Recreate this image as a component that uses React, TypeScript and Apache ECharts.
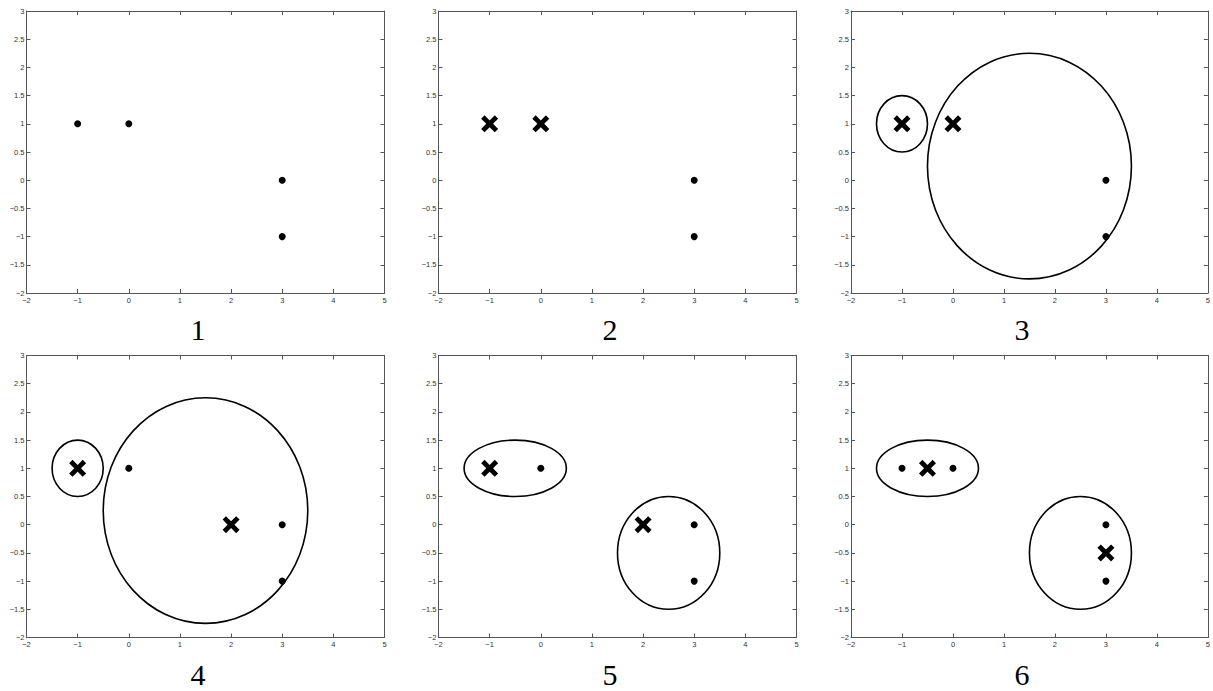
import React, { useEffect, useRef } from "react";
import * as echarts from "echarts";

// ---- data ----
const panelLabels = ["1", "2", "3", "4", "5", "6"];

// data points (filled dots) per panel
const dots1 = [[-1, 1], [0, 1], [3, 0], [3, -1]];
const dots2 = [[3, 0], [3, -1]];
const dots3 = [[3, 0], [3, -1]];
const dots4 = [[0, 1], [3, 0], [3, -1]];
const dots5 = [[0, 1], [3, 0], [3, -1]];
const dots6 = [[-1, 1], [0, 1], [3, 0], [3, -1]];

// centroids (crosses) per panel
const crosses1: number[][] = [];
const crosses2 = [[-1, 1], [0, 1]];
const crosses3 = [[-1, 1], [0, 1]];
const crosses4 = [[-1, 1], [2, 0]];
const crosses5 = [[-1, 1], [2, 0]];
const crosses6 = [[-0.5, 1], [3, -0.5]];

// ellipses: [centerX, centerY, radiusX, radiusY] in data units
const ellipses1: number[][] = [];
const ellipses2: number[][] = [];
const ellipses3 = [[-1, 1, 0.5, 0.5], [1.5, 0.25, 2, 2]];
const ellipses4 = [[-1, 1, 0.5, 0.5], [1.5, 0.25, 2, 2]];
const ellipses5 = [[-0.5, 1, 1, 0.5], [2.5, -0.5, 1, 1]];
const ellipses6 = [[-0.5, 1, 1, 0.5], [2.5, -0.5, 1, 1]];

const xMin = -2, xMax = 5, xStep = 1;
const yMin = -2, yMax = 3, yStep = 0.5;

const allDots = [dots1, dots2, dots3, dots4, dots5, dots6];
const allCrosses = [crosses1, crosses2, crosses3, crosses4, crosses5, crosses6];
const allEllipses = [ellipses1, ellipses2, ellipses3, ellipses4, ellipses5, ellipses6];

// ---- layout ----
const colLefts = [26.5, 438.5, 851];
const rowTops = [11, 355.5];
const plotW = 358;
const plotH = 282;
const labelCx = [198, 610, 1022];
const labelCy = [329, 674];

const CROSS =
  "path://M2,0 L5,3 L8,0 L10,2 L7,5 L10,8 L8,10 L5,7 L2,10 L0,8 L3,5 L0,2 Z";

const fmt = (v: number) => String(v).replace("-", "\u2212");

export default function App() {
  const ref = useRef<HTMLDivElement>(null);
  useEffect(() => {
    document.body.style.margin = "0";
    if (!ref.current) return;
    const chart = echarts.init(ref.current, null, { renderer: "svg" });

    const grids: any[] = [];
    const xAxes: any[] = [];
    const yAxes: any[] = [];
    const series: any[] = [];
    const graphics: any[] = [];
    const lineColor = "#555";
    const labelStyle = {
      fontSize: 7.5,
      color: "#333",
      fontFamily: "Liberation Sans, Arial, sans-serif",
    };

    for (let i = 0; i < 6; i++) {
      const r = Math.floor(i / 3);
      const c = i % 3;
      grids.push({
        left: colLefts[c],
        top: rowTops[r],
        width: plotW,
        height: plotH,
        containLabel: false,
      });
      for (const pos of ["bottom", "top"]) {
        xAxes.push({
          gridIndex: i,
          type: "value",
          position: pos,
          min: xMin,
          max: xMax,
          interval: xStep,
          axisLine: { show: true, onZero: false, lineStyle: { color: lineColor, width: 1 } },
          axisTick: { show: true, inside: true, length: 4, lineStyle: { color: lineColor } },
          axisLabel: {
            show: pos === "bottom",
            margin: 3,
            formatter: fmt,
            ...labelStyle,
          },
          splitLine: { show: false },
        });
      }
      for (const pos of ["left", "right"]) {
        yAxes.push({
          gridIndex: i,
          type: "value",
          position: pos,
          min: yMin,
          max: yMax,
          interval: yStep,
          axisLine: { show: true, onZero: false, lineStyle: { color: lineColor, width: 1 } },
          axisTick: { show: true, inside: true, length: 4, lineStyle: { color: lineColor } },
          axisLabel: {
            show: pos === "left",
            margin: 2,
            formatter: fmt,
            ...labelStyle,
          },
          splitLine: { show: false },
        });
      }

      series.push({
        type: "custom",
        xAxisIndex: 2 * i,
        yAxisIndex: 2 * i,
        data: allEllipses[i],
        silent: true,
        renderItem: (params: any, api: any) => {
          const cpt = api.coord([api.value(0), api.value(1)]);
          const sz = api.size([api.value(2), api.value(3)]);
          return {
            type: "ellipse",
            shape: { cx: cpt[0], cy: cpt[1], rx: sz[0], ry: sz[1] },
            style: { fill: "none", stroke: "#000", lineWidth: 1.6 },
          };
        },
      });
      series.push({
        type: "scatter",
        xAxisIndex: 2 * i,
        yAxisIndex: 2 * i,
        data: allDots[i],
        symbol: "circle",
        symbolSize: 7,
        itemStyle: { color: "#000", opacity: 1 },
        silent: true,
      });
      series.push({
        type: "scatter",
        xAxisIndex: 2 * i,
        yAxisIndex: 2 * i,
        data: allCrosses[i],
        symbol: CROSS,
        symbolSize: 17,
        itemStyle: { color: "#000", opacity: 1 },
        silent: true,
      });

      graphics.push({
        type: "text",
        x: labelCx[c],
        y: labelCy[r],
        style: {
          text: panelLabels[i],
          fontSize: 30,
          fontFamily: "Liberation Serif, serif",
          fill: "#000",
          align: "center",
          verticalAlign: "middle",
        },
      });
    }

    chart.setOption({
      animation: false,
      backgroundColor: "#fff",
      grid: grids,
      xAxis: xAxes,
      yAxis: yAxes,
      series,
      graphic: graphics,
    });
    return () => chart.dispose();
  }, []);
  return <div ref={ref} style={{ width: 1213, height: 691 }} />;
}
